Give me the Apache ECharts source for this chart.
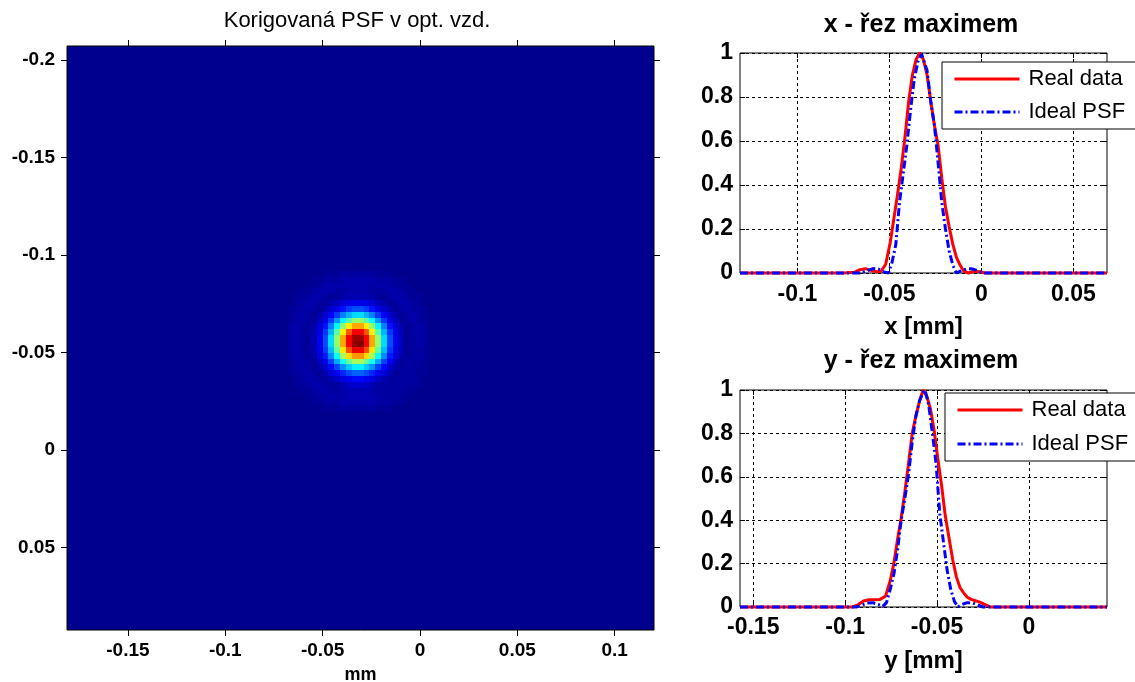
<!DOCTYPE html>
<html>
<head>
<meta charset="utf-8">
<script src="https://cdn.jsdelivr.net/npm/echarts@6/dist/echarts.min.js"></script>
<style>
  html, body { margin: 0; padding: 0; background: #ffffff; }
  #chart { width: 1135px; height: 682px; }
</style>
</head>
<body>
<div id="chart"></div>
<script>
// Corrected PSF map, sampled on a square grid; values in percent of the peak.
// Rows run from the top of the map (smallest y) downwards, columns left to right.
const psfOriginX = -0.0665;   // x of the first column centre [mm]
const psfOriginY = -0.0905;   // y of the first row centre [mm]
const psfStep = 0.003;        // grid pitch [mm]
const psfRows = [
  [0,0,0,0,0,0,1,1,1,2,2,2,2,2,2,1,1,1,0,0,0,0,0,0],
  [0,0,0,0,1,1,2,2,2,3,3,3,3,3,3,2,2,2,1,1,0,0,0,0],
  [0,0,0,1,1,2,3,3,3,3,3,3,3,3,2,3,3,2,2,1,1,0,0,0],
  [0,0,1,1,2,3,3,3,2,2,3,3,3,3,2,2,2,3,3,2,1,1,0,0],
  [0,1,1,2,3,3,2,1,1,3,4,4,4,4,3,1,1,2,3,3,2,1,1,0],
  [0,1,2,3,3,2,1,3,5,8,9,10,10,9,8,5,3,1,2,3,3,2,1,0],
  [1,2,2,3,2,1,4,7,10,14,18,20,20,18,14,10,7,4,1,2,3,2,2,1],
  [1,2,3,2,1,3,7,12,18,25,30,34,34,30,25,18,12,7,3,1,2,3,2,1],
  [1,2,3,2,1,5,10,18,27,37,46,52,52,46,37,27,18,10,5,1,2,3,2,1],
  [2,3,2,1,3,8,14,25,37,52,64,71,71,64,52,37,25,14,8,3,1,2,3,2],
  [2,3,2,1,4,9,18,30,46,64,79,88,88,79,64,46,30,18,9,4,1,2,3,2],
  [2,3,2,1,4,10,20,34,52,71,88,97,97,88,71,52,34,20,10,4,1,2,3,2],
  [2,3,2,1,4,10,20,34,52,71,88,98,100,88,71,52,34,20,10,4,1,2,3,2],
  [2,3,2,1,4,9,18,31,47,65,80,89,89,80,65,47,31,18,9,4,1,2,2,2],
  [2,3,2,1,3,8,15,26,38,54,66,73,73,66,54,38,26,15,8,3,1,2,2,2],
  [1,2,3,2,1,5,11,19,29,39,48,54,54,48,39,29,19,11,5,1,2,2,2,1],
  [1,2,3,2,1,3,7,13,19,27,32,36,36,32,27,19,13,7,3,1,2,2,2,1],
  [1,2,2,3,2,1,4,8,11,16,20,22,22,20,16,11,8,4,1,2,2,2,1,1],
  [0,1,2,3,3,2,2,3,6,9,11,13,13,11,9,6,3,2,2,2,2,2,1,0],
  [0,1,1,2,3,3,2,2,2,4,6,7,7,6,4,2,2,2,2,2,2,1,1,0],
  [0,0,1,1,2,3,3,2,2,3,4,4,4,4,3,2,2,2,2,2,1,1,0,0],
  [0,0,0,1,1,2,2,3,3,3,4,4,4,4,3,3,2,2,2,1,1,0,0,0],
  [0,0,0,0,1,1,2,2,2,3,3,3,3,3,3,2,2,2,1,1,0,0,0,0],
  [0,0,0,0,0,0,1,1,1,2,2,2,2,2,2,1,1,1,0,0,0,0,0,0]
];

// Tick values
const mapTicksX = [-0.15, -0.1, -0.05, 0, 0.05, 0.1];
const mapTicksY = [-0.2, -0.15, -0.1, -0.05, 0, 0.05];
const xCutTicks = [-0.1, -0.05, 0, 0.05];
const yCutTicks = [-0.15, -0.1, -0.05, 0];
const levelTicks = [0, 0.2, 0.4, 0.6, 0.8, 1];

// Cut through the maximum along x: [x mm, normalised intensity]
const xCutReal = [
  [-0.1312,0],[-0.075,0],[-0.069,0.003],[-0.066,0.015],[-0.063,0.02],[-0.06,0.012],
  [-0.057,0.006],[-0.0545,0.008],[-0.052,0.04],[-0.0495,0.14],[-0.0475,0.25],[-0.0455,0.36],
  [-0.0435,0.48],[-0.0415,0.62],[-0.0395,0.78],[-0.0375,0.9],[-0.0355,0.97],[-0.0335,1],
  [-0.0315,0.97],[-0.0295,0.9],[-0.0275,0.78],[-0.0255,0.67],[-0.0235,0.58],[-0.0215,0.43],
  [-0.0195,0.3],[-0.0175,0.21],[-0.0155,0.13],[-0.0135,0.07],[-0.0115,0.035],[-0.0095,0.008],
  [-0.007,0],[-0.004,0.008],[-0.001,0.006],[0.002,0],[0.0683,0]
];
const xCutIdeal = [
  [-0.1312,0],[-0.066,0],[-0.062,0.01],[-0.059,0.02],[-0.056,0.018],[-0.053,0.005],
  [-0.0505,0],[-0.0485,0.05],[-0.0465,0.13],[-0.0445,0.32],[-0.0425,0.45],[-0.0405,0.58],
  [-0.0385,0.74],[-0.0365,0.88],[-0.0345,0.96],[-0.0325,0.995],[-0.0315,1],[-0.0295,0.92],
  [-0.0275,0.78],[-0.0255,0.67],[-0.0235,0.5],[-0.0215,0.32],[-0.0195,0.2],[-0.0175,0.1],
  [-0.0155,0.035],[-0.0135,0],[-0.0105,0.012],[-0.0075,0.02],[-0.0045,0.018],[-0.0015,0.008],
  [0.001,0],[0.0683,0]
];

// Cut through the maximum along y: [y mm, normalised intensity]
const yCutReal = [
  [-0.1572,0],[-0.096,0],[-0.093,0.01],[-0.09,0.028],[-0.087,0.033],[-0.084,0.033],
  [-0.081,0.035],[-0.078,0.05],[-0.0755,0.12],[-0.0735,0.2],[-0.0715,0.31],[-0.0695,0.41],
  [-0.0675,0.53],[-0.0655,0.66],[-0.0635,0.8],[-0.0615,0.88],[-0.0595,0.95],[-0.0575,1],
  [-0.0555,0.97],[-0.0535,0.91],[-0.0515,0.81],[-0.0495,0.68],[-0.0475,0.56],[-0.0455,0.42],
  [-0.0435,0.32],[-0.0415,0.22],[-0.0395,0.14],[-0.0375,0.09],[-0.0355,0.065],[-0.0335,0.045],
  [-0.0315,0.035],[-0.0295,0.03],[-0.0275,0.025],[-0.0255,0.018],[-0.0235,0.01],[-0.021,0],
  [0.0425,0]
];
const yCutIdeal = [
  [-0.1572,0],[-0.094,0],[-0.091,0.008],[-0.088,0.018],[-0.085,0.02],[-0.082,0.012],
  [-0.0795,0.003],[-0.0775,0.02],[-0.0755,0.08],[-0.0735,0.15],[-0.0715,0.26],[-0.0695,0.4],
  [-0.0675,0.5],[-0.0655,0.61],[-0.0635,0.76],[-0.0615,0.88],[-0.0595,0.95],[-0.0575,0.99],
  [-0.0565,1],[-0.0545,0.93],[-0.0525,0.8],[-0.0505,0.66],[-0.0485,0.43],[-0.0465,0.3],
  [-0.0445,0.17],[-0.0425,0.08],[-0.0405,0.025],[-0.0385,0],[-0.0365,0.012],[-0.0335,0.02],
  [-0.0305,0.018],[-0.0275,0.008],[-0.025,0],[0.0425,0]
];

// ---- build the chart ----
const FONT = 'Arial, "Liberation Sans", Helvetica, sans-serif';
const jet = ['#00008F', '#0000FF', '#0080FF', '#00FFFF', '#80FF80',
             '#FFFF00', '#FF8000', '#FF0000', '#800000'];

const cells = [];
psfRows.forEach((row, r) => {
  row.forEach((v, c) => {
    cells.push([psfOriginX + c * psfStep, psfOriginY + r * psfStep, v / 100]);
  });
});

const hiddenLine = { show: false, onZero: false };

function tickAxis(opts) {
  // an axis that only contributes tick marks (mirrored frame side)
  return Object.assign({
    type: 'value',
    axisLine: hiddenLine,
    axisLabel: { show: false },
    splitLine: { show: false }
  }, opts);
}

const mapTickStyle = (vals) => ({
  show: true, inside: false, length: 6, customValues: vals,
  lineStyle: { color: '#000', width: 1 }
});
const cutTickStyle = (vals) => ({
  show: true, inside: true, length: 5, customValues: vals,
  lineStyle: { color: '#000', width: 1 }
});
const gridDash = { show: true, lineStyle: { color: '#000', width: 1, type: [3, 3] } };

const mapLabel = (vals, margin) => ({
  customValues: vals, margin: margin, color: '#000',
  fontSize: 19, fontWeight: 'bold', fontFamily: FONT
});
const cutLabel = (vals, margin) => ({
  customValues: vals, margin: margin, color: '#000',
  fontSize: 23, fontWeight: 'bold', fontFamily: FONT
});
const nameStyle = (size) => ({ color: '#000', fontSize: size, fontWeight: 'bold', fontFamily: FONT });

const legendBase = {
  data: ['Real data', 'Ideal PSF'], orient: 'vertical',
  itemWidth: 65, itemHeight: 22, padding: [6, 12, 6, 11],
  backgroundColor: '#ffffff', borderColor: '#000', borderWidth: 1,
  selectedMode: false,
  itemStyle: { opacity: 0 },
  lineStyle: { width: 3 },
  textStyle: { color: '#000', fontSize: 22, fontFamily: FONT, padding: [0, 0, 0, 4] }
};

const gridBase = { show: true, borderColor: '#000', borderWidth: 1,
                   containLabel: false, outerBoundsMode: 'none' };

const chart = echarts.init(document.getElementById('chart'), null, { renderer: 'canvas' });

const option = {
  animation: false,
  backgroundColor: '#ffffff',
  grid: [
    Object.assign({}, gridBase, { left: 67, top: 46, width: 587, height: 584, backgroundColor: '#00008F' }),
    Object.assign({}, gridBase, { left: 740, top: 53, width: 367, height: 220, backgroundColor: '#ffffff' }),
    Object.assign({}, gridBase, { left: 740, top: 390, width: 367, height: 217, backgroundColor: '#ffffff' })
  ],
  xAxis: [
    { type: 'value', gridIndex: 0, position: 'bottom', min: -0.1813, max: 0.1202,
      axisLine: hiddenLine, axisTick: mapTickStyle(mapTicksX),
      axisLabel: mapLabel(mapTicksX, 11), splitLine: { show: false },
      name: 'mm', nameLocation: 'middle', nameGap: 36, nameTextStyle: nameStyle(18) },
    tickAxis({ gridIndex: 0, position: 'top', min: -0.1813, max: 0.1202,
      axisTick: mapTickStyle(mapTicksX) }),
    { type: 'value', gridIndex: 1, position: 'bottom', min: -0.1312, max: 0.0683,
      axisLine: hiddenLine, axisTick: cutTickStyle(xCutTicks),
      axisLabel: cutLabel(xCutTicks, 10), splitLine: gridDash,
      name: 'x [mm]', nameLocation: 'middle', nameGap: 42, nameTextStyle: nameStyle(24) },
    tickAxis({ gridIndex: 1, position: 'top', min: -0.1312, max: 0.0683,
      axisTick: cutTickStyle(xCutTicks) }),
    { type: 'value', gridIndex: 2, position: 'bottom', min: -0.1572, max: 0.0425,
      axisLine: hiddenLine, axisTick: cutTickStyle(yCutTicks),
      axisLabel: cutLabel(yCutTicks, 9), splitLine: gridDash,
      name: 'y [mm]', nameLocation: 'middle', nameGap: 42, nameTextStyle: nameStyle(24) },
    tickAxis({ gridIndex: 2, position: 'top', min: -0.1572, max: 0.0425,
      axisTick: cutTickStyle(yCutTicks) })
  ],
  yAxis: [
    { type: 'value', gridIndex: 0, position: 'left', inverse: true, min: -0.2073, max: 0.0922,
      axisLine: hiddenLine, axisTick: mapTickStyle(mapTicksY),
      axisLabel: mapLabel(mapTicksY, 12), splitLine: { show: false } },
    tickAxis({ gridIndex: 0, position: 'right', inverse: true, min: -0.2073, max: 0.0922,
      axisTick: mapTickStyle(mapTicksY) }),
    { type: 'value', gridIndex: 1, position: 'left', min: 0, max: 1,
      axisLine: hiddenLine, axisTick: cutTickStyle(levelTicks),
      axisLabel: cutLabel(levelTicks, 7), splitLine: gridDash },
    tickAxis({ gridIndex: 1, position: 'right', min: 0, max: 1,
      axisTick: cutTickStyle(levelTicks) }),
    { type: 'value', gridIndex: 2, position: 'left', min: 0, max: 1,
      axisLine: hiddenLine, axisTick: cutTickStyle(levelTicks),
      axisLabel: cutLabel(levelTicks, 7), splitLine: gridDash },
    tickAxis({ gridIndex: 2, position: 'right', min: 0, max: 1,
      axisTick: cutTickStyle(levelTicks) })
  ],
  visualMap: [{
    type: 'continuous', show: false, seriesIndex: 0, dimension: 2,
    min: 0, max: 1, inRange: { color: jet }
  }],
  legend: [
    Object.assign({}, legendBase, { left: 942, top: 62, itemGap: 11 }),
    Object.assign({}, legendBase, { left: 945, top: 393, itemGap: 12 })
  ],
  graphic: [
    { type: 'text', x: 357, y: 21, silent: true,
      style: { text: 'Korigovaná PSF v opt. vzd.', align: 'center', verticalAlign: 'middle',
               fontSize: 22, fontWeight: 'normal', fontFamily: FONT, fill: '#000' } },
    { type: 'text', x: 921, y: 25, silent: true,
      style: { text: 'x - řez maximem', align: 'center', verticalAlign: 'middle',
               fontSize: 25, fontWeight: 'bold', fontFamily: FONT, fill: '#000' } },
    { type: 'text', x: 921, y: 361, silent: true,
      style: { text: 'y - řez maximem', align: 'center', verticalAlign: 'middle',
               fontSize: 25, fontWeight: 'bold', fontFamily: FONT, fill: '#000' } }
  ],
  series: [
    {
      type: 'custom', name: 'PSF', xAxisIndex: 0, yAxisIndex: 0,
      dimensions: ['x', 'y', 'v'], encode: { x: 0, y: 1 },
      data: cells,
      renderItem: function (params, api) {
        const h = psfStep / 2;
        const a = api.coord([api.value(0) - h, api.value(1) - h]);
        const b = api.coord([api.value(0) + h, api.value(1) + h]);
        const x0 = Math.round(Math.min(a[0], b[0]));
        const x1 = Math.round(Math.max(a[0], b[0]));
        const y0 = Math.round(Math.min(a[1], b[1]));
        const y1 = Math.round(Math.max(a[1], b[1]));
        return {
          type: 'rect',
          shape: { x: x0, y: y0, width: x1 - x0, height: y1 - y0 },
          style: { fill: api.visual('color'), stroke: null }
        };
      }
    },
    { type: 'line', name: 'Real data', xAxisIndex: 2, yAxisIndex: 2, data: xCutReal,
      symbol: 'none', clip: false, color: '#FF0000',
      lineStyle: { color: '#FF0000', width: 3, type: 'solid' } },
    { type: 'line', name: 'Ideal PSF', xAxisIndex: 2, yAxisIndex: 2, data: xCutIdeal,
      symbol: 'none', clip: false, color: '#0000FF',
      lineStyle: { color: '#0000FF', width: 3, type: [8, 3, 2, 3] } },
    { type: 'line', name: 'Real data', xAxisIndex: 4, yAxisIndex: 4, data: yCutReal,
      symbol: 'none', clip: false, color: '#FF0000',
      lineStyle: { color: '#FF0000', width: 3, type: 'solid' } },
    { type: 'line', name: 'Ideal PSF', xAxisIndex: 4, yAxisIndex: 4, data: yCutIdeal,
      symbol: 'none', clip: false, color: '#0000FF',
      lineStyle: { color: '#0000FF', width: 3, type: [8, 3, 2, 3] } }
  ]
};

chart.setOption(option);
</script>
</body>
</html>
